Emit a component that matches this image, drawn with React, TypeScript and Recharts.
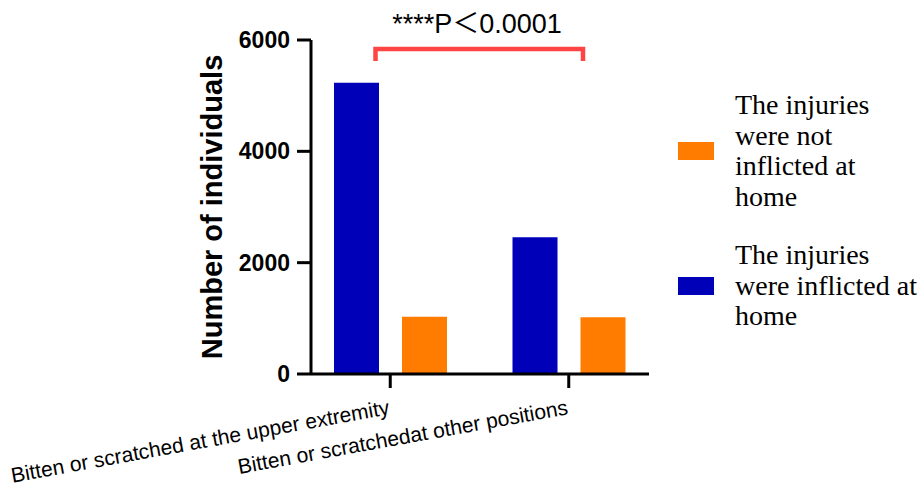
import { BarChart, Bar, XAxis, YAxis, Legend, Customized } from 'recharts';

// categories on the x axis
const categories = [
  'Bitten or scratched at the upper extremity',
  'Bitten or scratchedat other positions',
];

// series values (number of individuals)
const atHome = [5233, 2456];
const notAtHome = [1029, 1018];

const yTicks = [0, 2000, 4000, 6000];

const SERIES_HOME = 'The injuries were inflicted at home';
const SERIES_NOT_HOME = 'The injuries were not inflicted at home';

const BLUE = '#0000b8';
const ORANGE = '#ff7c00';
const SANS = '"Liberation Sans", Arial, Helvetica, sans-serif';
const SERIF = '"Liberation Serif", "Times New Roman", serif';

const data = categories.map((name, i) => ({
  name,
  home: atHome[i],
  notHome: notAtHome[i],
}));

const CategoryTick = (props: any) => {
  const { x, y, payload } = props;
  return (
    <g transform={`translate(${x},${y + 24}) rotate(-10.3)`}>
      <text x={0} y={0} textAnchor="end" fill="#000" fontSize={21} fontFamily={SANS}>
        {payload.value}
      </text>
    </g>
  );
};

// legend lists "not at home" first, like the figure
const renderLegend = () => {
  const items = [
    { label: SERIES_NOT_HOME, color: ORANGE },
    { label: SERIES_HOME, color: BLUE },
  ];
  return (
    <div style={{ display: 'flex', flexDirection: 'column', gap: 28 }}>
      {items.map((it) => (
        <div key={it.label} style={{ display: 'flex', alignItems: 'center' }}>
          <div style={{ width: 36, height: 18, background: it.color, flex: 'none' }} />
          <div
            style={{
              width: 186,
              marginLeft: 21,
              fontFamily: SERIF,
              fontSize: 28,
              lineHeight: '30.5px',
              color: '#000',
            }}
          >
            {it.label}
          </div>
        </div>
      ))}
    </div>
  );
};

// significance bracket, p-value and y axis title
const Annotations = () => (
  <g>
    <path d="M375.5 61 V49 H583 V61" fill="none" stroke="#ff4444" strokeWidth={4.5} />
    <text x={477} y={33} textAnchor="middle" fontSize={27} fill="#000"
      fontFamily={`${SANS}, "Noto Sans CJK SC"`}>
      ****P＜0.0001
    </text>
    <text
      x={222}
      y={207}
      transform="rotate(-90, 222, 207)"
      textAnchor="middle"
      fontSize={29}
      fontWeight="bold"
      fill="#000"
      fontFamily={SANS}
    >
      Number of individuals
    </text>
  </g>
);

export default function App() {
  return (
    <div style={{ position: 'absolute', left: 0, top: 0, background: '#fff' }}>
      <BarChart
        width={921}
        height={485}
        data={data}
        margin={{ top: 40, right: 272, bottom: 0, left: 231 }}
        barGap={23}
      >
        <XAxis
          dataKey="name"
          height={111}
          padding={{ left: -10, right: -9 }}
          axisLine={{ stroke: '#000', strokeWidth: 3 }}
          tickLine={{ stroke: '#000', strokeWidth: 3 }}
          tickSize={14}
          tick={<CategoryTick />}
          interval={0}
        />
        <YAxis
          width={80}
          domain={[0, 6000]}
          ticks={yTicks}
          axisLine={{ stroke: '#000', strokeWidth: 3 }}
          tickLine={{ stroke: '#000', strokeWidth: 3 }}
          tickSize={14}
          tickMargin={7}
          tick={{ fill: '#000', fontSize: 23, fontWeight: 'bold', fontFamily: SANS }}
        />
        <Bar dataKey="home" name={SERIES_HOME} fill={BLUE} barSize={45} isAnimationActive={false} />
        <Bar dataKey="notHome" name={SERIES_NOT_HOME} fill={ORANGE} barSize={45} isAnimationActive={false} />
        <Legend
          layout="horizontal"
          verticalAlign="middle"
          align="center"
          content={renderLegend}
          wrapperStyle={{ left: 678, top: 90, width: 243 }}
        />
        <Customized component={<Annotations />} />
      </BarChart>
    </div>
  );
}
